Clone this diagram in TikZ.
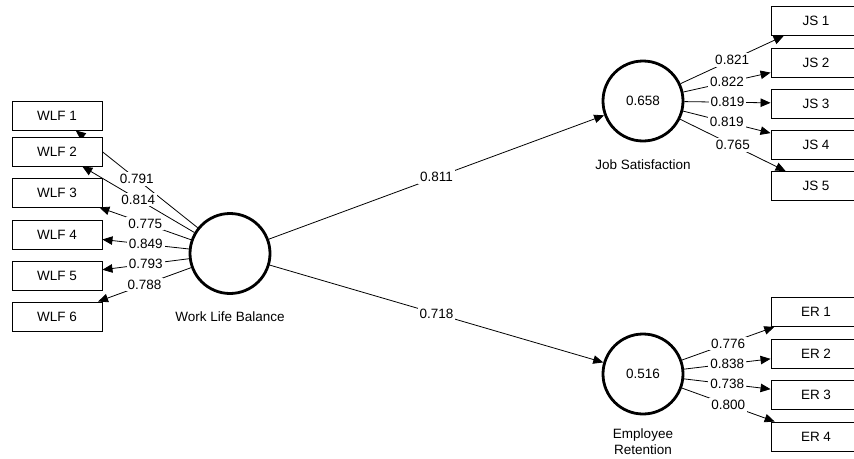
\documentclass[tikz,border=0pt]{standalone}
\usepackage{fontspec}
\setmainfont{Liberation Sans}
\usetikzlibrary{arrows.meta}
\usetikzlibrary{positioning, backgrounds}

\begin{document}
\begin{tikzpicture}[->,>={Triangle[length=10pt,width=8.5pt]},x=1pt,y=-1pt,font=\fontsize{13.5}{16}\selectfont]

    % Define styles
    \tikzstyle{indicator} = [rectangle, draw, fill=white, line width=0.9pt, text centered, minimum height=29pt, minimum width=90pt]
    \tikzstyle{construct} = [circle, draw, fill=white, line width=2.8pt, minimum size=80pt, inner sep=0pt]
    \tikzstyle{caption} = [align=center, inner sep=1pt]
    \tikzstyle{weight} = [fill=white, inner sep=2pt]

    \useasboundingbox (0,0) rectangle (854,458);
    \clip (0,0) rectangle (854,458);

    % Constructs
    \node[construct] (wlb) at (230, 253.5) {};
    \node[construct] (js) at (643, 101) {0.658};
    \node[construct] (er) at (643, 374) {0.516};

    \node[caption, below=16pt of wlb] (wlbcap) {Work Life Balance};
    \node[caption, below=16pt of js] (jscap) {Job Satisfaction};
    \node[caption, below=12pt of er] (ercap) {Employee\\Retention};

    % Indicators of Work Life Balance
    \node[indicator] (wlf1) at (57, 115.5) {WLF 1};
    \node[indicator] (wlf2) at (57, 151.5) {WLF 2};
    \node[indicator] (wlf3) at (57, 192.5) {WLF 3};
    \node[indicator] (wlf4) at (57, 234.5) {WLF 4};
    \node[indicator] (wlf5) at (57, 275.5) {WLF 5};
    \node[indicator] (wlf6) at (57, 316.5) {WLF 6};

    % Indicators of Job Satisfaction
    \node[indicator] (js1) at (816, 21) {JS 1};
    \node[indicator] (js2) at (816, 62.5) {JS 2};
    \node[indicator] (js3) at (816, 103.5) {JS 3};
    \node[indicator] (js4) at (816, 144.5) {JS 4};
    \node[indicator] (js5) at (816, 186) {JS 5};

    % Indicators of Employee Retention
    \node[indicator] (er1) at (816, 312) {ER 1};
    \node[indicator] (er2) at (816, 353.5) {ER 2};
    \node[indicator] (er3) at (816, 394.5) {ER 3};
    \node[indicator] (er4) at (816, 436.5) {ER 4};

    \begin{pgfonlayer}{background}
    % Outer loadings
    \draw[->, line width=0.8pt] (wlb) -- node[weight] {0.791} (wlf1);
    \draw[->, line width=0.8pt] (wlb) -- node[weight] {0.814} (wlf2);
    \draw[->, line width=0.8pt] (wlb) -- node[weight] {0.775} (wlf3);
    \draw[->, line width=0.8pt] (wlb) -- node[weight] {0.849} (wlf4);
    \draw[->, line width=0.8pt] (wlb) -- node[weight] {0.793} (wlf5);
    \draw[->, line width=0.8pt] (wlb) -- node[weight] {0.788} (wlf6);

    \draw[->, line width=0.8pt] (js) -- node[weight] {0.821} (js1);
    \draw[->, line width=0.8pt] (js) -- node[weight] {0.822} (js2);
    \draw[->, line width=0.8pt] (js) -- node[weight] {0.819} (js3);
    \draw[->, line width=0.8pt] (js) -- node[weight] {0.819} (js4);
    \draw[->, line width=0.8pt] (js) -- node[weight] {0.765} (js5);

    \draw[->, line width=0.8pt] (er) -- node[weight] {0.776} (er1);
    \draw[->, line width=0.8pt] (er) -- node[weight] {0.838} (er2);
    \draw[->, line width=0.8pt] (er) -- node[weight] {0.738} (er3);
    \draw[->, line width=0.8pt] (er) -- node[weight] {0.800} (er4);

    % Path coefficients
    \draw[->, line width=0.8pt] (wlb) -- node[weight] {0.811} (js);
    \draw[->, line width=0.8pt] (wlb) -- node[weight] {0.718} (er);
    \end{pgfonlayer}

\end{tikzpicture}
\end{document}
